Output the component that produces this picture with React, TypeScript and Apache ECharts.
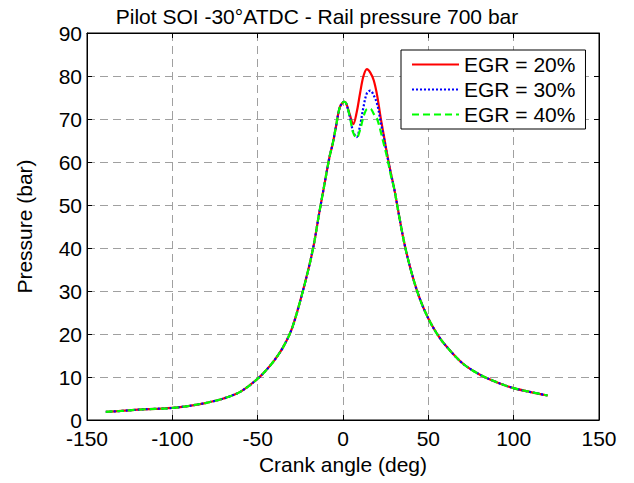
import React, { useEffect, useRef } from "react";
import * as echarts from "echarts";

const titleText = "Pilot SOI -30°ATDC - Rail pressure 700 bar";
const xName = "Crank angle (deg)";
const yName = "Pressure (bar)";
const seriesNames = ["EGR = 20%", "EGR = 30%", "EGR = 40%"];

const angles = [-139, -130, -120, -110, -100, -90, -80, -70, -60, -50, -45, -40, -35, -30, -25, -20, -17, -14, -11, -8, -6, -4, -2, 0, 1, 2, 4, 6, 8, 10, 12, 14, 16, 18, 20, 22, 24, 26, 28, 30, 33, 36, 40, 45, 50, 55, 60, 70, 80, 90, 100, 110, 120];

const egr20 = [1.9, 2.1, 2.4, 2.6, 2.8, 3.3, 4.0, 5.0, 6.6, 9.6, 11.6, 14.0, 17.0, 21.2, 27.8, 35.5, 41, 48, 54.5, 61, 64.3, 68.5, 72.6, 73.9, 74, 73.5, 71, 68.8, 71.5, 76, 80, 81.6, 80.8, 79, 75.5, 70.5, 66, 61.5, 57.5, 53.8, 47.2, 41, 34.5, 28.2, 23.6, 20.1, 17.4, 13.2, 10.6, 8.8, 7.4, 6.5, 5.7];
const egr30 = [1.9, 2.1, 2.4, 2.6, 2.8, 3.3, 4.0, 5.0, 6.6, 9.6, 11.6, 14.0, 17.0, 21.2, 27.8, 35.5, 41, 48, 54.5, 61, 64.3, 68.5, 72.6, 73.9, 74, 73.5, 70.5, 67, 65.8, 68.5, 72.8, 76, 76.6, 75.5, 73.5, 69.5, 65.5, 61.3, 57.3, 53.8, 47.2, 41, 34.5, 28.2, 23.6, 20.1, 17.4, 13.2, 10.6, 8.8, 7.4, 6.5, 5.7];
const egr40 = [1.9, 2.1, 2.4, 2.6, 2.8, 3.3, 4.0, 5.0, 6.6, 9.6, 11.6, 14.0, 17.0, 21.2, 27.8, 35.5, 41, 48, 54.5, 61, 64.3, 68.5, 72.6, 73.9, 74, 73.5, 70.5, 66.8, 65.6, 67.5, 70.5, 72.3, 72.4, 71.2, 70, 67.2, 64, 60.8, 57, 53.8, 47.2, 41, 34.5, 28.2, 23.6, 20.1, 17.4, 13.2, 10.6, 8.8, 7.4, 6.5, 5.7];

const FONT = "'Liberation Sans', Arial, Helvetica, sans-serif";

export default function App() {
  const ref = useRef<HTMLDivElement>(null);
  useEffect(() => {
    if (!ref.current) return;
    const chart = echarts.init(ref.current, null, { renderer: "svg" });
    const mk = (vals: number[]) => angles.map((a, i) => [a, vals[i]]);
    const axisCommon = {
      axisLine: { show: true, onZero: false, lineStyle: { color: "#000", width: 1 } },
      axisTick: { show: true, inside: true, length: 5, lineStyle: { color: "#000" } },
    };
    chart.setOption({
      animation: false,
      backgroundColor: "#fff",
      textStyle: { fontFamily: FONT },
      title: {
        text: titleText,
        left: "center",
        top: 1,
        textStyle: { fontFamily: FONT, fontSize: 21, fontWeight: "normal", color: "#000" },
      },
      grid: { left: 87, right: 35, top: 33, bottom: 63, show: true, borderColor: "#000", borderWidth: 1, backgroundColor: "#fff" },
      legend: {
        orient: "vertical",
        left: 401,
        top: 50,
        backgroundColor: "#fff",
        borderColor: "#000",
        borderWidth: 1,
        borderRadius: 0,
        padding: [4, 10, 4, 10],
        itemGap: 4,
        itemWidth: 47,
        itemHeight: 14,
        itemTextGap: 6,
        itemStyle: { opacity: 0 },
        textStyle: { fontFamily: FONT, fontSize: 21, color: "#000", lineHeight: 21 },
        data: seriesNames,
      },
      xAxis: [
        {
          type: "value",
          min: -150,
          max: 150,
          interval: 50,
          name: xName,
          nameLocation: "middle",
          nameGap: 34,
          nameTextStyle: { fontFamily: FONT, fontSize: 21, color: "#000" },
          axisLabel: { fontFamily: FONT, fontSize: 21, lineHeight: 16, color: "#000", margin: 10 },
          splitLine: { show: true, lineStyle: { color: "#a0a0a0", type: [8, 5], width: 1 } },
          ...axisCommon,
        },
        {
          type: "value",
          position: "top",
          min: -150,
          max: 150,
          interval: 50,
          axisLabel: { show: false },
          splitLine: { show: false },
          ...axisCommon,
        },
      ],
      yAxis: [
        {
          type: "value",
          min: 0,
          max: 90,
          interval: 10,
          name: yName,
          nameLocation: "middle",
          nameGap: 52,
          nameTextStyle: { fontFamily: FONT, fontSize: 21, color: "#000" },
          axisLabel: { fontFamily: FONT, fontSize: 21, lineHeight: 16, color: "#000", margin: 5 },
          splitLine: { show: true, lineStyle: { color: "#a0a0a0", type: [8, 5], width: 1 } },
          ...axisCommon,
        },
        {
          type: "value",
          position: "right",
          min: 0,
          max: 90,
          interval: 10,
          axisLabel: { show: false },
          splitLine: { show: false },
          ...axisCommon,
        },
      ],
      series: [
        {
          name: seriesNames[0],
          type: "line",
          data: mk(egr20),
          smooth: 0.35,
          symbol: "none",
          lineStyle: { color: "#ff0000", width: 2.2, type: "solid" },
          itemStyle: { color: "#ff0000" },
        },
        {
          name: seriesNames[1],
          type: "line",
          data: mk(egr30),
          smooth: 0.35,
          symbol: "none",
          lineStyle: { color: "#0000ff", width: 2.2, type: [2, 2] },
          itemStyle: { color: "#0000ff" },
        },
        {
          name: seriesNames[2],
          type: "line",
          data: mk(egr40),
          smooth: 0.35,
          symbol: "none",
          lineStyle: { color: "#00ff00", width: 2.2, type: [7, 4] },
          itemStyle: { color: "#00ff00" },
        },
      ],
    });
    return () => chart.dispose();
  }, []);
  return <div ref={ref} style={{ width: 634, height: 483, position: "absolute", left: 0, top: 0 }} />;
}
